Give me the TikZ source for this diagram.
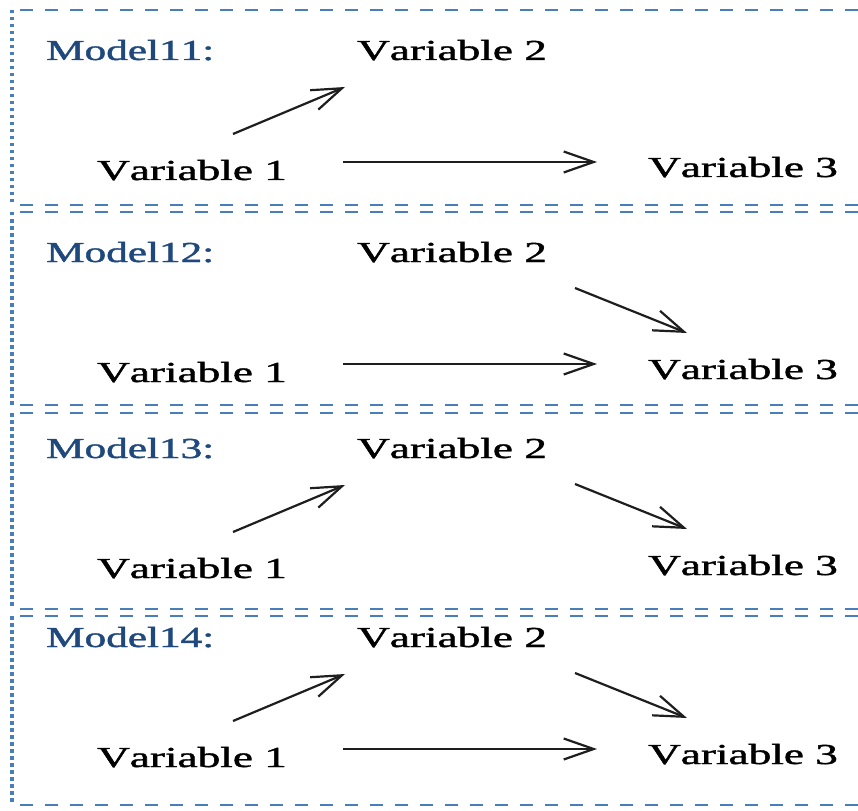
\documentclass[tikz,border=0pt]{standalone}
\usepackage{fontspec}
\usepackage{graphicx}
\usetikzlibrary{arrows.meta}
\newfontfamily\dfont[Kerning=Off,FakeBold=1.2]{Liberation Serif}
\definecolor{frameblue}{HTML}{4A7EBB}
\definecolor{labelblue}{HTML}{1F497D}
\definecolor{arrowgray}{HTML}{1E1E1E}
\newcommand{\stretchv}[1]{\scalebox{1.56}[1]{#1}}
\newcommand{\stretchm}[1]{\scalebox{1.49}[1]{#1}}
\begin{document}
\begin{tikzpicture}[x=1pt,y=-1pt,
  vartext/.style={anchor=base west, inner sep=0pt, font=\dfont\fontsize{29}{29}\selectfont, text=black},
  modeltext/.style={anchor=base west, inner sep=0pt, font=\dfont\fontsize{29}{29}\selectfont, text=labelblue},
  conn/.style={draw=arrowgray, line width=2.2pt, -{Straight Barb[length=30pt,width=21pt]}},
  hframe/.style={draw=frameblue, line width=2.6pt, dash pattern=on 13pt off 12pt},
  vframe/.style={draw=frameblue, line width=3.4pt, dash pattern=on 3.5pt off 3.5pt}]
\useasboundingbox (0,0) rectangle (858,810);
\clip (0,0) rectangle (858,810);
\foreach \i/\dy/\tp/\bt in {1/0/10/205, 2/202/212/405, 3/398/413/609, 4/587/616/805} {
  % frame
  \draw[hframe] (20,\tp) -- (870,\tp);
  \draw[hframe] (20,\bt) -- (870,\bt);
  \draw[vframe] (12,\tp) -- (12,\bt);
  % texts
  \node[modeltext] (m\i) at (46,60+\dy) {\stretchm{Model1\i:}};
  \node[vartext] (vb\i) at (357,60+\dy) {\stretchv{Variable 2}};
  \node[vartext] (va\i) at (97,180+\dy) {\stretchv{Variable 1}};
  \node[vartext] (vc\i) at (648,177+\dy) {\stretchv{Variable 3}};
  % arrow end points
  \coordinate (s12\i) at (233,134+\dy);
  \coordinate (e12\i) at (345,87+\dy);
  \coordinate (s13\i) at (343,162+\dy);
  \coordinate (e13\i) at (597,162+\dy);
  \coordinate (s23\i) at (575,86+\dy);
  \coordinate (e23\i) at (687,131+\dy);
}
% Model 1
\draw[conn] (s121) -- (e121);
\draw[conn] (s131) -- (e131);
% Model 2
\draw[conn] (s132) -- (e132);
\draw[conn] (s232) -- (e232);
% Model 3
\draw[conn] (s123) -- (e123);
\draw[conn] (s233) -- (e233);
% Model 4
\draw[conn] (s124) -- (e124);
\draw[conn] (s134) -- (e134);
\draw[conn] (s234) -- (e234);
\end{tikzpicture}
\end{document}
